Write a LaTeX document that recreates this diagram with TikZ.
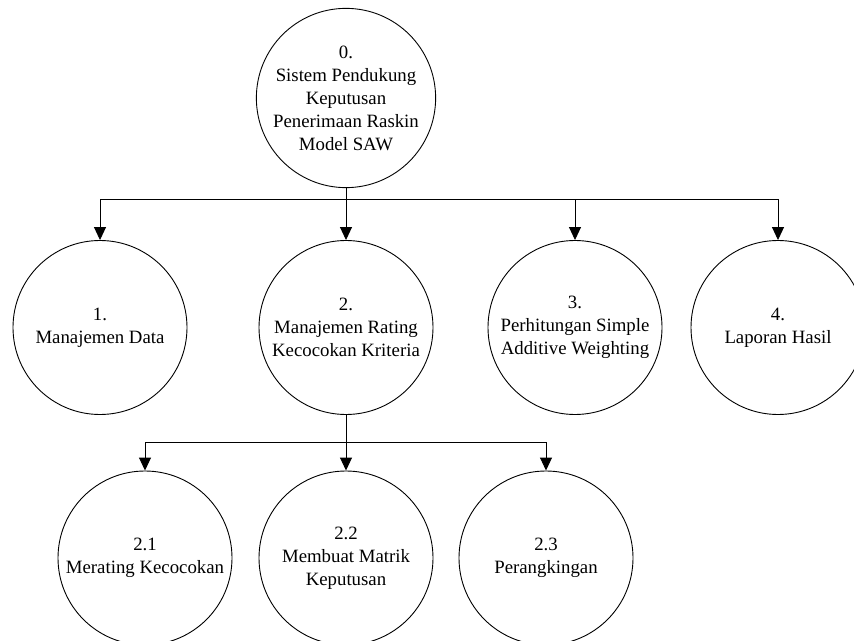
\documentclass[tikz,border=0pt]{standalone}
\usepackage{fontspec}
\setmainfont{Liberation Serif}
\usetikzlibrary{arrows.meta}

\tikzset{
  proc/.style={draw, circle, line width=0.9bp, minimum size=174bp, inner sep=0pt,
               align=center, font=\fontsize{18.8bp}{23bp}\selectfont},
  link/.style={line width=0.9bp},
  arr/.style={link, -{Triangle[width=12bp,length=13bp]}}
}

\begin{document}
\begin{tikzpicture}[x=1bp, y=-1bp]
  \useasboundingbox (0,0) rectangle (854,641);
  \clip (0,0) rectangle (854,641);

  % top-level process
  \node[proc] (c0) at (346,98) {0.\\Sistem Pendukung\\Keputusan\\Penerimaan Raskin\\Model SAW};

  % first level
  \node[proc] (c1) at (100,327.5) {1.\\Manajemen Data};
  \node[proc] (c2) at (346,327.5) {2.\\Manajemen Rating\\Kecocokan Kriteria};
  \node[proc] (c3) at (575,327.5) {3.\\Perhitungan Simple\\Additive Weighting};
  \node[proc] (c4) at (778,327.5) {4.\\Laporan Hasil};

  % second level under process 2
  \node[proc] (c21) at (145,558) {2.1\\Merating Kecocokan};
  \node[proc] (c22) at (346,558) {2.2\\Membuat Matrik\\Keputusan};
  \node[proc] (c23) at (546,558) {2.3\\Perangkingan};

  % junction points
  \coordinate (j0) at (346,199);
  \coordinate (j2) at (346,442);

  % connectors from process 0
  \draw[link] (c0.south) -- (j0);
  \draw[arr] (j0) -| (c1.north);
  \draw[arr] (j0) -- (c2.north);
  \draw[arr] (j0) -| (c3.north);
  \draw[arr] (j0) -| (c4.north);

  % connectors from process 2
  \draw[link] (c2.south) -- (j2);
  \draw[arr] (j2) -| (c21.north);
  \draw[arr] (j2) -- (c22.north);
  \draw[arr] (j2) -| (c23.north);
\end{tikzpicture}
\end{document}
